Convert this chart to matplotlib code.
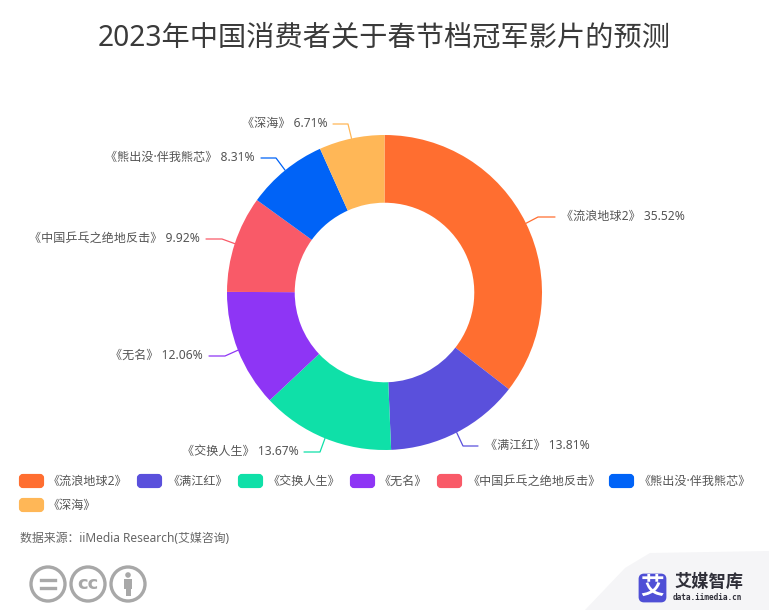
import matplotlib
matplotlib.use('Agg')
import matplotlib.pyplot as plt
from matplotlib.patches import Circle, FancyBboxPatch, Polygon, Rectangle
import numpy as np

plt.rcParams['font.family'] = ['Noto Sans', 'Noto Sans CJK SC', 'DejaVu Sans']

title = '2023年中国消费者关于春节档冠军影片的预测'
source = '数据来源\uff1aiiMedia Research(艾媒咨询)'
movies = ['《流浪地球2》', '《满江红》', '《交换人生》', '《无名》',
          '《中国乒乓之绝地反击》', '《熊出没·伴我熊芯》', '《深海》']
shares = [35.52, 13.81, 13.67, 12.06, 9.92, 8.31, 6.71]
colors = ['#FF6E30', '#5A50DC', '#0FE0A8', '#8E35F5', '#F95A68', '#0063F7', '#FFB757']

W, H = 769, 610
cx, cy, radius = 384.5, 292.5, 157.5

fig = plt.figure(figsize=(W / 100, H / 100), dpi=100, facecolor='white')

# pixel coordinate layer for everything that is not the ring
ax = fig.add_axes([0, 0, 1, 1])
ax.set_xlim(0, W)
ax.set_ylim(H, 0)
ax.axis('off')

# the ring
pie_ax = fig.add_axes([(cx - radius) / W, 1 - (cy + radius) / H, 2 * radius / W, 2 * radius / H])
pie_ax.pie(shares, colors=colors, startangle=90, counterclock=False, radius=1,
           wedgeprops=dict(width=0.43, linewidth=0))
pie_ax.set_xlim(-1, 1)
pie_ax.set_ylim(-1, 1)

ax.text(384, 38, title, ha='center', va='center', fontsize=20.3, color='#3a3a3a')

# leader lines: (elbow x, elbow y, end x, text x, align)
label_layout = [
    (538, 217, 555, 561, 'left'),
    (463, 446, 478, 485, 'left'),
    (320, 452, 304, 299, 'right'),
    (225, 356, 209, 203, 'right'),
    (222, 239, 206, 200, 'right'),
    (276, 158, 261, 255, 'right'),
    (348, 124, 333, 328, 'right'),
]
mid = np.cumsum(shares) - np.array(shares) / 2
angles = np.deg2rad(mid / sum(shares) * 360)
for i, (ex, ey, tx, lx, align) in enumerate(label_layout):
    px = cx + radius * np.sin(angles[i])
    py = cy - radius * np.cos(angles[i])
    ax.plot([px, ex, tx], [py, ey, ey], color=colors[i], lw=0.9, solid_capstyle='round')
    ax.text(lx, ey - 1, f'{movies[i]} {shares[i]:.2f}%', ha=align, va='center',
            fontsize=8.7, color='#555555')

# legend
legend_swatch_x = [19, 137, 238, 350, 437, 609, 19]
legend_text_x = [52, 172, 272, 383, 472, 643, 52]
legend_y = [481, 481, 481, 481, 481, 481, 505]
for i, name in enumerate(movies):
    ax.add_patch(FancyBboxPatch((legend_swatch_x[i] + 2, legend_y[i] - 5), 21, 10,
                                boxstyle='round,pad=0,rounding_size=2', mutation_aspect=1,
                                fc=colors[i], ec=colors[i], lw=3))
    ax.text(legend_text_x[i] - 4, legend_y[i], name, ha='left', va='center',
            fontsize=8.7, color='#555555')

ax.text(20, 539, source, ha='left', va='center', fontsize=8.6, color='#666666')

# cc badges
icon_gray = '#a8a8a8'
for x in [48, 88, 128]:
    ax.add_patch(Circle((x, 584), 17, fc='white', ec=icon_gray, lw=2.4))
ax.plot([41, 55], [580, 580], color=icon_gray, lw=2.4)
ax.plot([41, 55], [588, 588], color=icon_gray, lw=2.4)
ax.text(88, 584, 'cc', ha='center', va='center', fontsize=13, color=icon_gray,
        fontweight='bold', family='DejaVu Sans')
ax.add_patch(Circle((128, 575), 2.8, fc=icon_gray, ec='none'))
ax.add_patch(Rectangle((124, 579), 8, 10, fc=icon_gray, ec='none'))
ax.add_patch(Rectangle((125.5, 588), 5, 8, fc=icon_gray, ec='none'))

# logo corner
ax.add_patch(Polygon([(585, 610), (625, 568), (650, 553), (769, 551), (769, 610)],
                     fc='#F5F5F7', ec='none', zorder=0))
ax.add_patch(FancyBboxPatch((640, 575), 25, 26, boxstyle='round,pad=0,rounding_size=4',
                            fc='#4F4FD6', ec='#4F4FD6', lw=2))
ax.text(652.5, 588, '艾', ha='center', va='center', fontsize=17, color='white', fontweight='bold')
ax.text(708.5, 582, '艾媒智库', ha='center', va='center', fontsize=12.4, color='#2e2e38', fontweight='bold')
ax.text(707, 597, 'data.iimedia.cn', ha='center', va='center', fontsize=5.6, color='#2e2e38',
        fontweight='bold', family='DejaVu Sans Mono')

fig.savefig('out.png', dpi=100)
